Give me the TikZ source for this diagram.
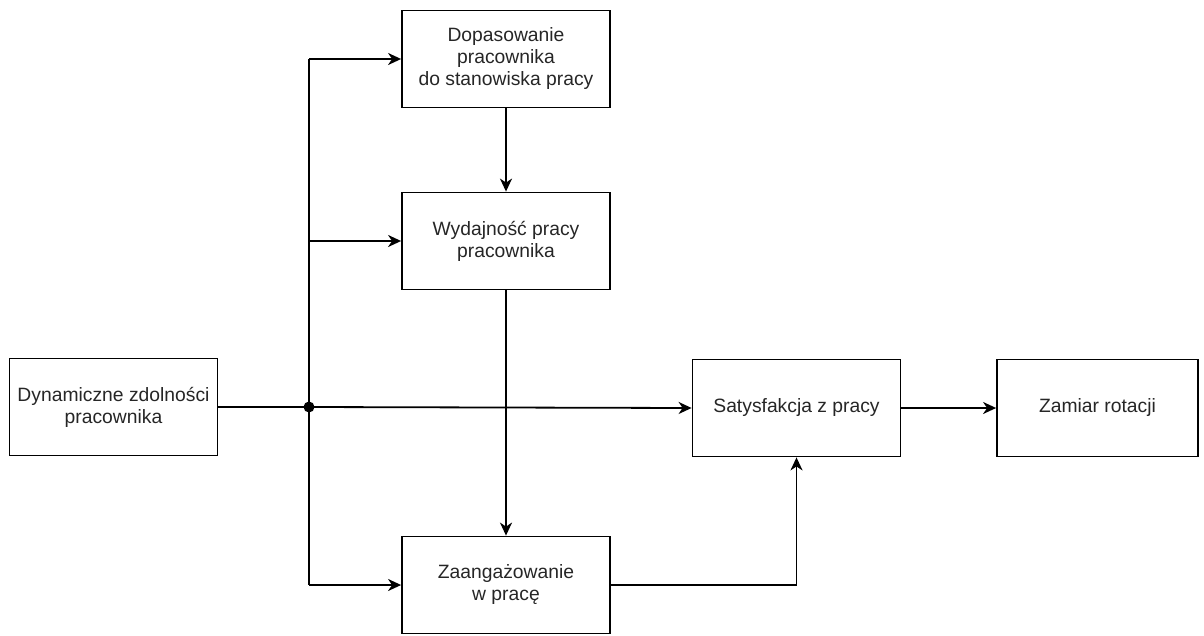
\documentclass[tikz,border=0pt]{standalone}
\usepackage{fontspec}
\setmainfont{Liberation Sans}
\usetikzlibrary{arrows.meta,calc}
\begin{document}
\begin{tikzpicture}[x=1pt,y=-1pt,
  box/.style={draw,line width=1.8pt,minimum width=208pt,minimum height=97pt,
    inner sep=0pt,align=center,font=\fontsize{19.3}{22}\selectfont,text=black!85},
  link/.style={line width=1.8pt,-{Stealth[length=13pt,width=12pt,inset=4pt]}},
  line/.style={line width=1.8pt}]
\useasboundingbox (0,0) rectangle (1204,635);
% boxes
\node[box] (dyn) at (113.5,407) {Dynamiczne zdolności\\pracownika};
\node[box] (dop) at (506,59) {Dopasowanie\\pracownika\\do stanowiska pracy};
\node[box] (wyd) at (506,241) {Wydajność pracy\\pracownika};
\node[box] (zaa) at (506,585) {Zaangażowanie\\w pracę};
\node[box] (sat) at (796.5,408) {Satysfakcja z pracy};
\node[box,minimum width=201pt] (zam) at (1097.5,408) {Zamiar rotacji};
% branching point
\coordinate (j) at (309,407);
\fill (j) circle (5.5pt);
\draw[line] (dyn.east) -- (j);
\draw[line] (j |- dop.west) -- (j |- zaa.west);
\draw[link] (j |- dop.west) -- (dop.west);
\draw[link] (j |- wyd.west) -- (wyd.west);
\draw[link] (j |- zaa.west) -- (zaa.west);
\draw[link] (j) -- (sat.west);
% vertical chain
\draw[link] (dop.south) -- (wyd.north);
\draw[link] (wyd.south) -- (zaa.north);
\draw[link] (zaa.east) -| (sat.south);
\draw[link] (sat.east) -- (zam.west);
\end{tikzpicture}
\end{document}
